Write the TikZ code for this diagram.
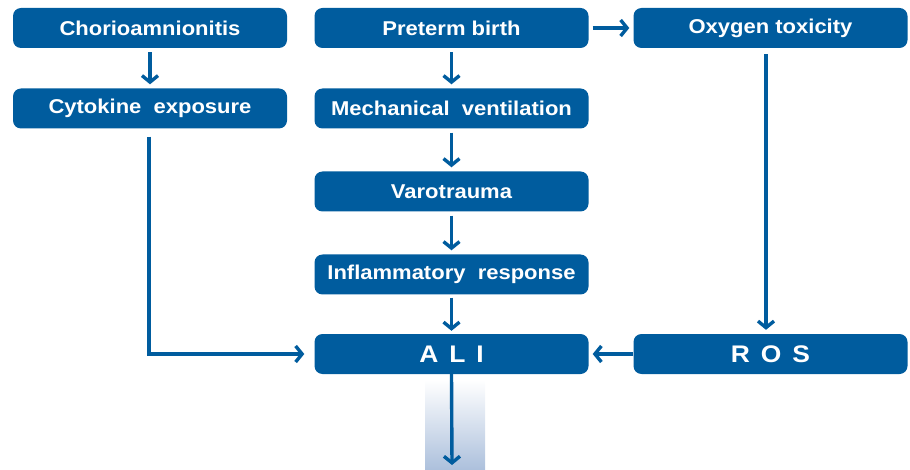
\documentclass[tikz,border=0pt]{standalone}
\usepackage{fontspec}
\setmainfont{Liberation Sans}[FakeStretch=1.1]
\usetikzlibrary{arrows.meta}
\definecolor{boxblue}{RGB}{0,92,158}
\definecolor{gradblue}{RGB}{172,192,220}
\begin{document}
\begin{tikzpicture}[x=1pt,y=-1pt,
  box/.style={fill=boxblue, rounded corners=8pt, text=white, inner sep=0pt,
    minimum width=274pt, minimum height=40pt,
    font=\fontsize{20}{23}\selectfont\bfseries},
  bigbox/.style={box, font=\fontsize{24}{28}\selectfont\bfseries\addfontfeatures{LetterSpace=15}},
  arr/.style={draw=boxblue, line width=3.4pt, -{Straight Barb[length=6.5pt,width=16pt,line width=3.4pt]}}]
\useasboundingbox (0,0) rectangle (910,470);
\fill[top color=white, bottom color=gradblue] (425,380) rectangle (485,470);

\node[box] (chorio) at (150,28) {Chorioamnionitis};
\node[box] (cyto) at (150,108.5) {Cytokine\ \ exposure};
\node[box] (pre) at (451.5,28) {Preterm birth};
\node[box] (mech) at (451.5,108.5) {Mechanical\ \ ventilation};
\node[box] (varo) at (451.5,191.5) {Varotrauma};
\node[box] (infl) at (451.5,274.5) {Inflammatory\ \ response};
\node[bigbox] (ali) at (451.5,354) {A L I};
\node[box] (oxy) at (770.5,28) {Oxygen toxicity};
\node[bigbox] (ros) at (770.5,354) {R O S};
\coordinate (end) at (452,465);

\draw[arr, shorten <=4pt, shorten >=4pt] (chorio) -- (cyto);
\draw[arr, shorten <=4pt, shorten >=4pt] (pre) -- (mech);
\draw[arr, shorten <=4pt, shorten >=4pt] (mech) -- (varo);
\draw[arr, shorten <=4pt, shorten >=4pt] (varo) -- (infl);
\draw[arr, shorten <=3pt, shorten >=3pt] (infl) -- (ali);
\draw[arr, shorten <=4pt, shorten >=4pt] (pre) -- (oxy);
\draw[arr, shorten >=4pt] (ros) -- (ali);
\draw[arr] ([xshift=-1pt,yshift=-8pt]cyto.south) |- ([xshift=-10pt]ali.west);
\draw[arr] ([xshift=-4.5pt,yshift=-6pt]oxy.south) -- ([xshift=-4.5pt,yshift=4pt]ros.north);
\draw[arr] (ali.south) -- (end);
\end{tikzpicture}
\end{document}
